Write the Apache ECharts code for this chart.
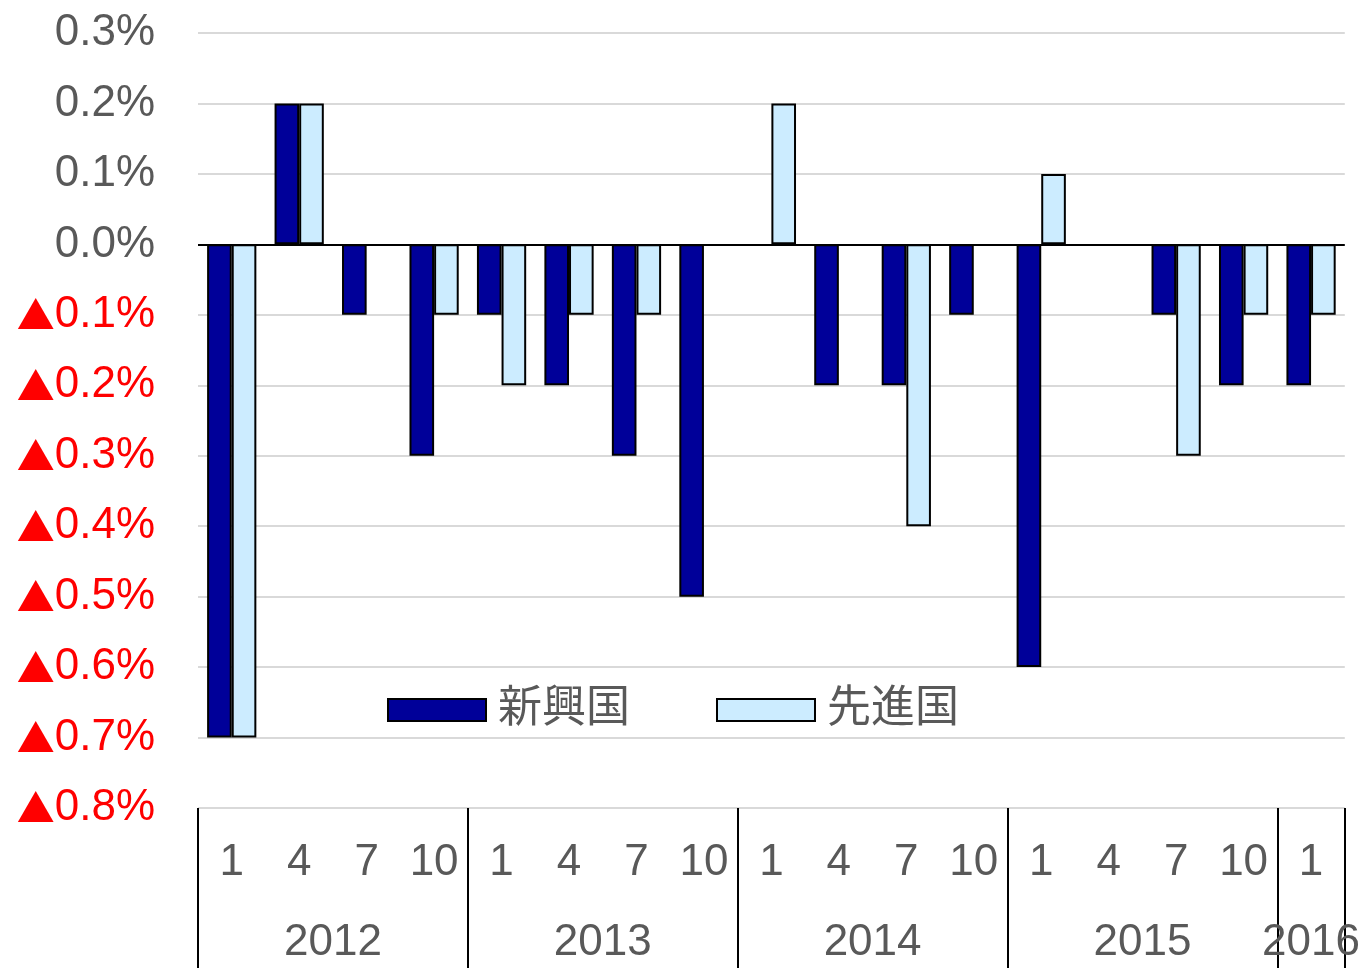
<!DOCTYPE html>
<html>
<head>
<meta charset="utf-8">
<script src="https://cdn.jsdelivr.net/npm/echarts@6/dist/echarts.min.js"></script>
<style>
html,body{margin:0;padding:0;background:#fff;}
#chart{width:1363px;height:968px;}
</style>
</head>
<body>
<div id="chart"></div>
<script>
// ---- data ----
var quarters = ['1','4','7','10','1','4','7','10','1','4','7','10','1','4','7','10','1'];
var years = ['2012','2013','2014','2015','2016'];
var quartersPerYear = [4,4,4,4,1];
var emerging = [-0.7,0.2,-0.1,-0.3,-0.1,-0.2,-0.3,-0.5,0,-0.2,-0.2,-0.1,-0.6,0,-0.1,-0.2,-0.2];
var advanced = [-0.7,0.2,0,-0.1,-0.2,-0.1,-0.1,0,0.2,0,-0.4,0,0.1,0,-0.3,-0.1,-0.1];
var seriesNames = ['新興国','先進国'];

// derived year boundaries / centres on the category scale
var boundaries = [0], centres = [], acc = 0;
quartersPerYear.forEach(function(n){ centres.push(acc + n/2); acc += n; boundaries.push(acc); });
function hideZero(arr){ return arr.map(function(v){ return v === 0 ? null : v; }); }

var FONT = '"Liberation Sans", Arial, "Noto Sans CJK JP", sans-serif';
var GREY = '#595959';

var chart = echarts.init(document.getElementById('chart'));
chart.setOption({
  animation: false,
  textStyle: {fontFamily: FONT},
  grid: {left: 198, right: 18, top: 33, bottom: 160, containLabel: false},
  legend: {
    left: 387, top: 688,
    padding: 0,
    icon: 'rect',
    itemWidth: 98, itemHeight: 22, itemGap: 86,
    textStyle: {fontSize: 44, color: GREY, fontFamily: FONT, padding: [0,0,0,7]},
    data: seriesNames
  },
  xAxis: [{
    type: 'category',
    data: quarters,
    position: 'bottom',
    axisLine: {show: false},
    axisTick: {show: false},
    axisLabel: {fontSize: 44, color: GREY, margin: 33, interval: 0, fontFamily: FONT}
  },{
    type: 'value',
    min: 0, max: acc,
    position: 'bottom',
    offset: 0,
    axisLine: {show: false},
    splitLine: {show: false},
    axisTick: {show: true, customValues: boundaries, length: 160, lineStyle: {color: '#000', width: 2}},
    axisLabel: {
      customValues: centres,
      fontSize: 44, color: GREY, margin: 113, fontFamily: FONT,
      formatter: function(v){
        for (var i=0;i<centres.length;i++){ if (Math.abs(centres[i]-v)<1e-6) return years[i]; }
        return '';
      }
    }
  }],
  yAxis: {
    type: 'value',
    min: -0.8, max: 0.3, interval: 0.1,
    axisLine: {show: false},
    axisTick: {show: false},
    splitLine: {lineStyle: {color: '#D9D9D9', width: 2}},
    axisLabel: {
      fontSize: 44, color: GREY, margin: 43, fontFamily: FONT,
      formatter: function(v){
        var r = Math.round(v*10)/10;
        if (r < 0) return '{t|▲}{n|' + Math.abs(r).toFixed(1) + '%}';
        return r.toFixed(1) + '%';
      },
      rich: {
        t: {color: '#FF0000', fontSize: 38, fontFamily: '"Noto Sans CJK JP"'},
        n: {color: '#FF0000', fontSize: 44, fontFamily: FONT}
      }
    }
  },
  series: [{
    name: seriesNames[0],
    type: 'bar',
    data: hideZero(emerging),
    barGap: '0%',
    barCategoryGap: '27%',
    itemStyle: {color: '#000099', borderColor: '#000', borderWidth: 2},
    markLine: {
      silent: true, symbol: 'none', label: {show: false},
      lineStyle: {color: '#000', width: 2, type: 'solid'},
      data: [{yAxis: 0}]
    }
  },{
    name: seriesNames[1],
    type: 'bar',
    data: hideZero(advanced),
    barGap: '0%',
    barCategoryGap: '27%',
    itemStyle: {color: '#CCECFF', borderColor: '#000', borderWidth: 2}
  }]
});
</script>
</body>
</html>
